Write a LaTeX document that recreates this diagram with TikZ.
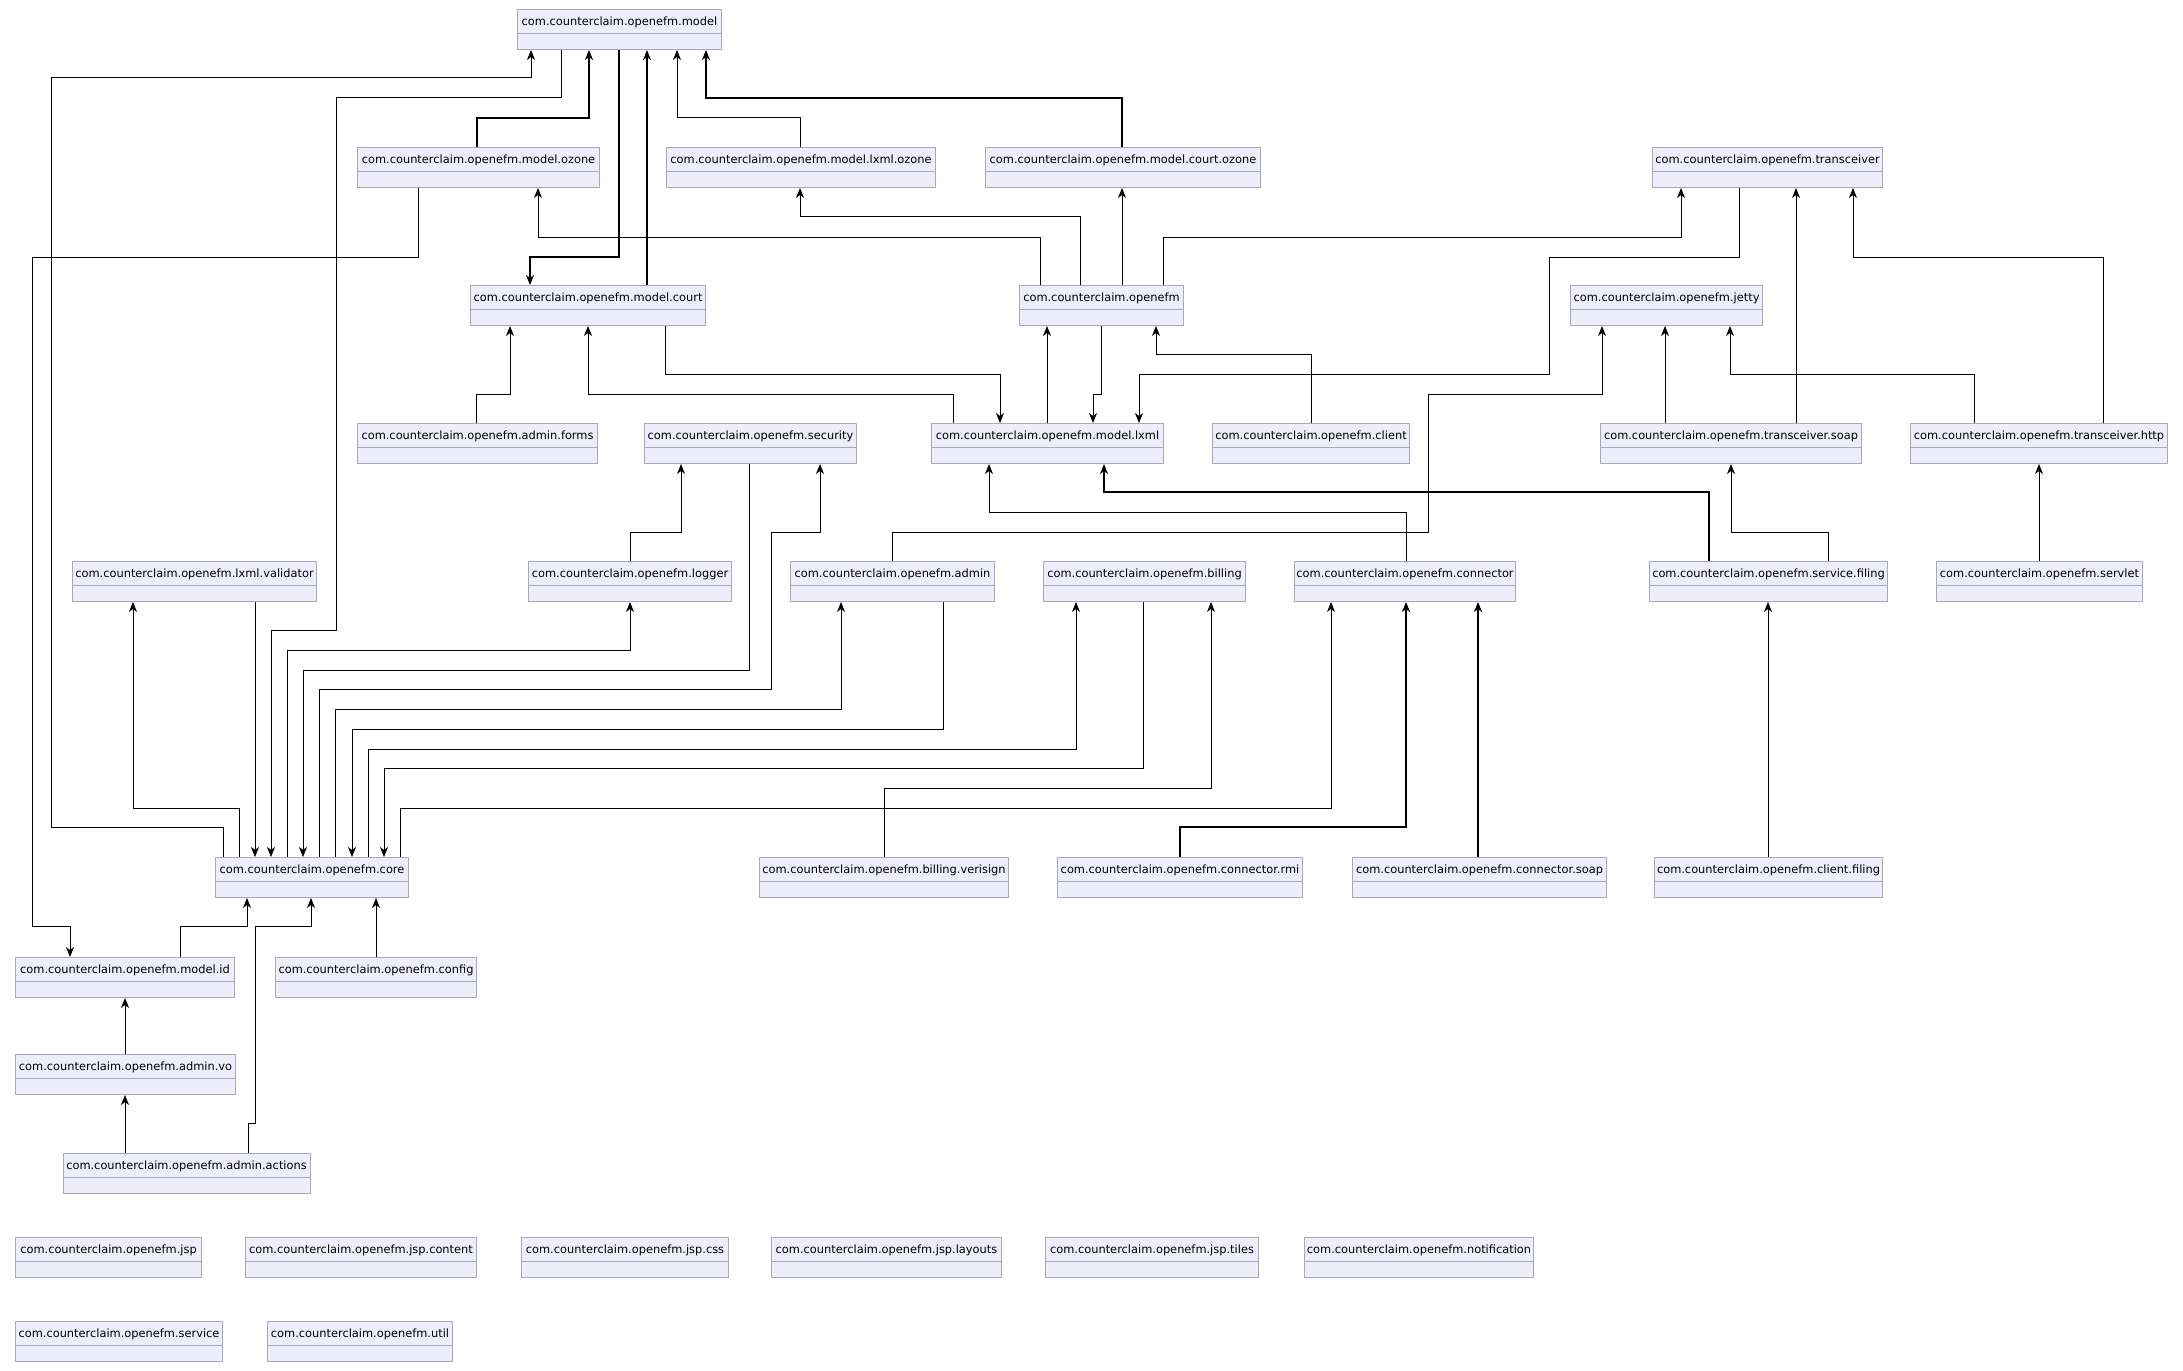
\documentclass[tikz,border=0pt]{standalone}
\usepackage{fontspec}
\setmainfont{DejaVu Sans}
\usetikzlibrary{arrows.meta}
\definecolor{pkgfill}{RGB}{238,238,251}
\definecolor{pkgline}{RGB}{168,168,186}

\begin{document}
\begin{tikzpicture}[x=1pt,y=-1pt,
  >={Stealth[length=10pt,width=8pt,inset=3pt]},
  pkg/.style={draw=pkgline,fill=pkgfill,line width=1pt,anchor=north west,
    inner xsep=0pt,inner ysep=0pt,text height=16pt,text depth=24pt,
    font=\fontsize{11.4}{13}\selectfont,
    path picture={\draw[pkgline,line width=1pt]
      ([yshift=-24pt]path picture bounding box.north west) --
      ([yshift=-24pt]path picture bounding box.north east);}},
  dep/.style={->,line width=1pt},
  dep2/.style={->,line width=2pt}]

\path[use as bounding box,fill=white] (0,0) rectangle (2183,1370);

\node[pkg,minimum width=204pt] (model) at (517,9) {com.counterclaim.openefm.model};

\node[pkg,minimum width=242pt] (mozone) at (357,147) {com.counterclaim.openefm.model.ozone};
\node[pkg,minimum width=269pt] (mlxmlozone) at (666,147) {com.counterclaim.openefm.model.lxml.ozone};
\node[pkg,minimum width=275pt] (mcourtozone) at (985,147) {com.counterclaim.openefm.model.court.ozone};
\node[pkg,minimum width=230pt] (transceiver) at (1652,147) {com.counterclaim.openefm.transceiver};

\node[pkg,minimum width=235pt] (mcourt) at (470,285) {com.counterclaim.openefm.model.court};
\node[pkg,minimum width=164pt] (openefm) at (1019,285) {com.counterclaim.openefm};
\node[pkg,minimum width=192pt] (jetty) at (1570,285) {com.counterclaim.openefm.jetty};

\node[pkg,minimum width=240pt] (aforms) at (357,423) {com.counterclaim.openefm.admin.forms};
\node[pkg,minimum width=212pt] (security) at (644,423) {com.counterclaim.openefm.security};
\node[pkg,minimum width=232pt] (mlxml) at (931,423) {com.counterclaim.openefm.model.lxml};
\node[pkg,minimum width=197pt] (client) at (1212,423) {com.counterclaim.openefm.client};
\node[pkg,minimum width=261pt] (tsoap) at (1600,423) {com.counterclaim.openefm.transceiver.soap};
\node[pkg,minimum width=257pt] (thttp) at (1910,423) {com.counterclaim.openefm.transceiver.http};

\node[pkg,minimum width=244pt] (validator) at (72,561) {com.counterclaim.openefm.lxml.validator};
\node[pkg,minimum width=203pt] (logger) at (528,561) {com.counterclaim.openefm.logger};
\node[pkg,minimum width=204pt] (admin) at (790,561) {com.counterclaim.openefm.admin};
\node[pkg,minimum width=202pt] (billing) at (1043,561) {com.counterclaim.openefm.billing};
\node[pkg,minimum width=221pt] (connector) at (1294,561) {com.counterclaim.openefm.connector};
\node[pkg,minimum width=238pt] (sfiling) at (1649,561) {com.counterclaim.openefm.service.filing};
\node[pkg,minimum width=206pt] (servlet) at (1936,561) {com.counterclaim.openefm.servlet};

\node[pkg,minimum width=193pt] (core) at (215,857) {com.counterclaim.openefm.core};
\node[pkg,minimum width=249pt] (verisign) at (759,857) {com.counterclaim.openefm.billing.verisign};
\node[pkg,minimum width=245pt] (crmi) at (1057,857) {com.counterclaim.openefm.connector.rmi};
\node[pkg,minimum width=254pt] (csoap) at (1352,857) {com.counterclaim.openefm.connector.soap};
\node[pkg,minimum width=228pt] (cfiling) at (1654,857) {com.counterclaim.openefm.client.filing};

\node[pkg,minimum width=219pt] (mid) at (15,957) {com.counterclaim.openefm.model.id};
\node[pkg,minimum width=201pt] (config) at (275,957) {com.counterclaim.openefm.config};
\node[pkg,minimum width=220pt] (avo) at (15,1054) {com.counterclaim.openefm.admin.vo};
\node[pkg,minimum width=247pt] (aactions) at (62.5,1153) {com.counterclaim.openefm.admin.actions};

\node[pkg,minimum width=186pt] (jsp) at (15,1237) {com.counterclaim.openefm.jsp};
\node[pkg,minimum width=231pt] (jspcontent) at (245,1237) {com.counterclaim.openefm.jsp.content};
\node[pkg,minimum width=207pt] (jspcss) at (521,1237) {com.counterclaim.openefm.jsp.css};
\node[pkg,minimum width=230pt] (jsplayouts) at (771,1237) {com.counterclaim.openefm.jsp.layouts};
\node[pkg,minimum width=213pt] (jsptiles) at (1045,1237) {com.counterclaim.openefm.jsp.tiles};
\node[pkg,minimum width=229pt] (notification) at (1304,1237) {com.counterclaim.openefm.notification};
\node[pkg,minimum width=207pt] (service) at (15,1321) {com.counterclaim.openefm.service};
\node[pkg,minimum width=185pt] (util) at (267,1321) {com.counterclaim.openefm.util};

\draw[dep] (core.north -| 223,0) -- (223,827) -- (51,827) -- (51,78) -- (531,78) -- (model.south -| 531,0);
\draw[dep] (model.south -| 561,0) -- (561,98) -- (336,98) -- (336,630) -- (271,630) -- (core.north -| 271,0);
\draw[dep2] (mozone.north -| 477,0) -- (477,118) -- (589,118) -- (model.south -| 589,0);
\draw[dep2] (model.south -| 619,0) -- (619,257) -- (530,257) -- (mcourt.north -| 530,0);
\draw[dep2] (mcourt.north -| 647,0) -- (model.south -| 647,0);
\draw[dep] (mlxmlozone.north -| 800,0) -- (800,118) -- (677,118) -- (model.south -| 677,0);
\draw[dep2] (mcourtozone.north -| 1122,0) -- (1122,98) -- (706,98) -- (model.south -| 706,0);

\draw[dep] (openefm.north -| 1040,0) -- (1040,237) -- (538,237) -- (mozone.south -| 538,0);
\draw[dep] (openefm.north -| 1080,0) -- (1080,216) -- (800,216) -- (mlxmlozone.south -| 800,0);
\draw[dep] (openefm.north -| 1122,0) -- (mcourtozone.south -| 1122,0);
\draw[dep] (openefm.north -| 1163,0) -- (1163,237) -- (1681,237) -- (transceiver.south -| 1681,0);
\draw[dep] (mozone.south -| 418,0) -- (418,257) -- (32,257) -- (32,926) -- (70,926) -- (mid.north -| 70,0);

\draw[dep] (aforms.north -| 476,0) -- (476,394) -- (510,394) -- (mcourt.south -| 510,0);
\draw[dep] (mlxml.north -| 953,0) -- (953,394) -- (588,394) -- (mcourt.south -| 588,0);
\draw[dep] (mcourt.south -| 665,0) -- (665,374) -- (1000,374) -- (mlxml.north -| 1000,0);
\draw[dep] (mlxml.north -| 1047,0) -- (openefm.south -| 1047,0);
\draw[dep] (openefm.south -| 1101,0) -- (1101,394) -- (1093,394) -- (mlxml.north -| 1093,0);
\draw[dep] (client.north -| 1311,0) -- (1311,354) -- (1156,354) -- (openefm.south -| 1156,0);
\draw[dep] (transceiver.south -| 1739,0) -- (1739,257) -- (1549,257) -- (1549,374) -- (1139,374) -- (mlxml.north -| 1139,0);
\draw[dep] (admin.north -| 892,0) -- (892,532) -- (1428,532) -- (1428,394) -- (1602,394) -- (jetty.south -| 1602,0);
\draw[dep] (tsoap.north -| 1665,0) -- (jetty.south -| 1665,0);
\draw[dep] (thttp.north -| 1974,0) -- (1974,374) -- (1730,374) -- (jetty.south -| 1730,0);
\draw[dep] (tsoap.north -| 1796,0) -- (transceiver.south -| 1796,0);
\draw[dep] (thttp.north -| 2103,0) -- (2103,257) -- (1853,257) -- (transceiver.south -| 1853,0);

\draw[dep] (logger.north -| 630,0) -- (630,532) -- (681,532) -- (security.south -| 681,0);
\draw[dep] (security.south -| 749,0) -- (749,670) -- (303,670) -- (core.north -| 303,0);
\draw[dep] (core.north -| 319,0) -- (319,689) -- (771,689) -- (771,532) -- (820,532) -- (security.south -| 820,0);
\draw[dep] (core.north -| 239,0) -- (239,808) -- (133,808) -- (validator.south -| 133,0);
\draw[dep] (validator.south -| 255,0) -- (core.north -| 255,0);
\draw[dep] (core.north -| 287,0) -- (287,650) -- (630,650) -- (logger.south -| 630,0);
\draw[dep] (core.north -| 335,0) -- (335,709) -- (841,709) -- (admin.south -| 841,0);
\draw[dep] (admin.south -| 943,0) -- (943,729) -- (352,729) -- (core.north -| 352,0);
\draw[dep] (core.north -| 368,0) -- (368,749) -- (1076,749) -- (billing.south -| 1076,0);
\draw[dep] (billing.south -| 1143,0) -- (1143,768) -- (384,768) -- (core.north -| 384,0);
\draw[dep] (core.north -| 400,0) -- (400,808) -- (1331,808) -- (connector.south -| 1331,0);

\draw[dep] (connector.north -| 1406,0) -- (1406,512) -- (989,512) -- (mlxml.south -| 989,0);
\draw[dep2] (sfiling.north -| 1709,0) -- (1709,492) -- (1104,492) -- (mlxml.south -| 1104,0);
\draw[dep] (sfiling.north -| 1828,0) -- (1828,532) -- (1731,532) -- (tsoap.south -| 1731,0);
\draw[dep] (servlet.north -| 2039,0) -- (thttp.south -| 2039,0);
\draw[dep] (verisign.north -| 884,0) -- (884,788) -- (1211,788) -- (billing.south -| 1211,0);
\draw[dep2] (crmi.north -| 1180,0) -- (1180,827) -- (1406,827) -- (connector.south -| 1406,0);
\draw[dep2] (csoap.north -| 1478,0) -- (connector.south -| 1478,0);
\draw[dep] (cfiling.north -| 1768,0) -- (sfiling.south -| 1768,0);

\draw[dep] (mid.north -| 180,0) -- (180,926) -- (247,926) -- (core.south -| 247,0);
\draw[dep] (config.north -| 376,0) -- (core.south -| 376,0);
\draw[dep] (avo.north -| 125,0) -- (mid.south -| 125,0);
\draw[dep] (aactions.north -| 125,0) -- (avo.south -| 125,0);
\draw[dep] (aactions.north -| 248,0) -- (248,1123) -- (255,1123) -- (255,926) -- (311,926) -- (core.south -| 311,0);
\end{tikzpicture}
\end{document}
